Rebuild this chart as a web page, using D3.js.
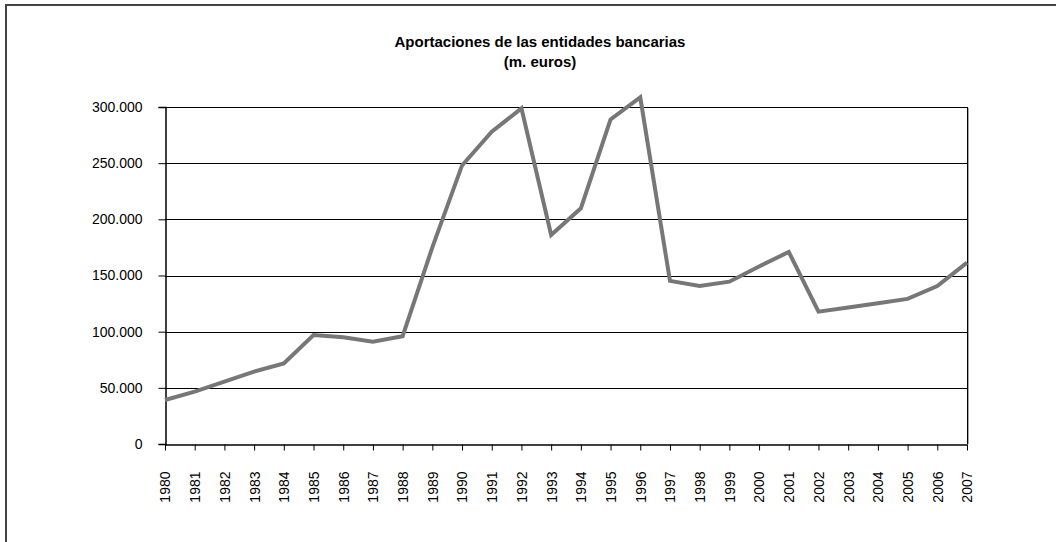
<!DOCTYPE html>
<html lang="es">
<head>
<meta charset="utf-8"/>
<script src="https://cdn.jsdelivr.net/npm/d3@7/dist/d3.min.js"></script>
<style>
  body { margin: 0; background: #fff; }
  svg { display: block; font-family: Arial, "Liberation Sans", sans-serif; }
</style>
</head>
<body>
<script>
  var years = ["1980","1981","1982","1983","1984","1985","1986","1987","1988","1989",
               "1990","1991","1992","1993","1994","1995","1996","1997","1998","1999",
               "2000","2001","2002","2003","2004","2005","2006","2007"];
  var aportaciones = [39200, 46600, 55500, 64400, 71800, 97000, 95000, 91000, 96000, 175000,
                      248000, 278000, 298800, 186000, 209800, 289000, 308600, 145200, 140600, 144500,
                      158000, 171000, 117800, 121500, 125300, 129200, 140600, 161400];
  var yTicks = [0, 50000, 100000, 150000, 200000, 250000, 300000];
  var titleLines = ["Aportaciones de las entidades bancarias", "(m. euros)"];

  var w = 1056, h = 542;
  var plotL = 165, plotR = 967, plotT = 107, plotB = 444;

  var svg = d3.select("body").append("svg")
      .attr("width", w)
      .attr("height", h);

  // outer chart frame (cut by the window on the right and bottom)
  svg.append("rect")
      .attr("x", 6).attr("y", 5)
      .attr("width", w + 20).attr("height", h + 20)
      .attr("fill", "none")
      .attr("stroke", "#444")
      .attr("stroke-width", 2);

  svg.selectAll("text.title")
      .data(titleLines)
    .enter().append("text")
      .attr("class", "title")
      .attr("x", 540)
      .attr("y", function(d, i) { return 47 + i * 20; })
      .attr("text-anchor", "middle")
      .attr("font-size", "15px")
      .attr("font-weight", "bold")
      .text(function(d) { return d; });

  var x = d3.scalePoint().domain(years).range([plotL, plotR]);
  var y = d3.scaleLinear().domain([0, 300000]).range([plotB, plotT]);

  var fmt = function(v) { return v === 0 ? "0" : d3.format(",")(v).replace(/,/g, "."); };

  // gridlines
  svg.append("g")
    .selectAll("line")
    .data(yTicks.slice(1))
    .enter().append("line")
      .attr("x1", plotL).attr("x2", plotR)
      .attr("y1", function(d) { return Math.round(y(d)) + 0.5; })
      .attr("y2", function(d) { return Math.round(y(d)) + 0.5; })
      .attr("stroke", "#000")
      .attr("stroke-width", 1);

  // right frame of plot area
  svg.append("line")
      .attr("x1", plotR + 0.5).attr("x2", plotR + 0.5)
      .attr("y1", plotT).attr("y2", plotB)
      .attr("stroke", "#000");
  svg.append("line")
      .attr("x1", plotR + 1.5).attr("x2", plotR + 1.5)
      .attr("y1", plotT + 1).attr("y2", plotB)
      .attr("stroke", "#aaa");

  var yAxis = svg.append("g")
      .attr("transform", "translate(" + (plotL + 0.5) + ",0)")
      .call(d3.axisLeft(y).tickValues(yTicks).tickFormat(fmt).tickSize(7).tickPadding(16));
  yAxis.selectAll("text").attr("font-size", "14px").attr("fill", "#000").attr("font-family", "Arial, 'Liberation Sans', sans-serif");
  yAxis.selectAll("line, path").attr("stroke", "#000");
  yAxis.select("path").attr("stroke-width", 1.5);

  var xAxis = svg.append("g")
      .attr("transform", "translate(0," + (plotB + 0.5) + ")")
      .call(d3.axisBottom(x).tickSize(6).tickSizeOuter(0));
  xAxis.selectAll("line, path").attr("stroke", "#000");
  xAxis.select("path").attr("stroke-width", 1.5);
  xAxis.selectAll("text")
      .attr("font-size", "14px")
      .attr("fill", "#000")
      .attr("font-family", "Arial, 'Liberation Sans', sans-serif")
      .attr("text-anchor", "end")
      .attr("dy", "0.35em")
      .attr("transform", "translate(0,27) rotate(-90)")
      .attr("x", 0).attr("y", 0);

  var line = d3.line()
      .x(function(d, i) { return x(years[i]); })
      .y(function(d) { return y(d); });

  svg.append("path")
      .datum(aportaciones)
      .attr("d", line)
      .attr("fill", "none")
      .attr("stroke", "#777")
      .attr("stroke-width", 4)
      .attr("stroke-linejoin", "miter");
</script>
</body>
</html>
